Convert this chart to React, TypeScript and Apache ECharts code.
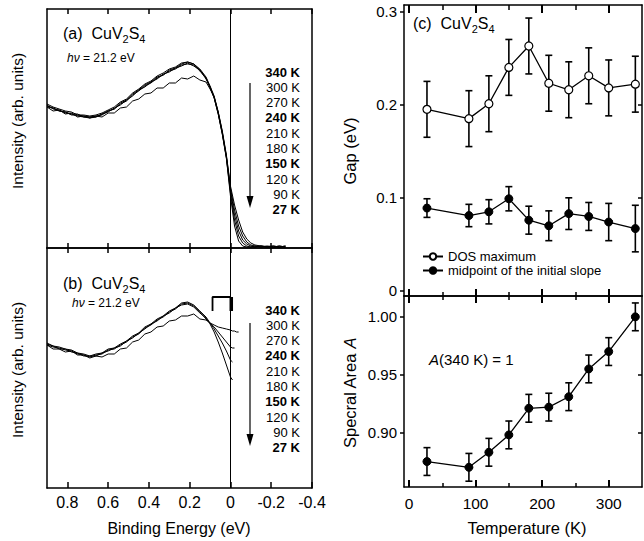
import React, { useEffect, useRef } from "react";
import * as echarts from "echarts";

const FONT = "'Liberation Sans', Arimo, Arial, sans-serif";

// Binding energies (eV)
const E_BULK = [0.9, 0.87, 0.84, 0.81, 0.78, 0.75, 0.72, 0.69, 0.66, 0.63, 0.6, 0.57, 0.54, 0.51, 0.48, 0.45, 0.42, 0.39, 0.36, 0.33, 0.3, 0.27, 0.24, 0.21, 0.18, 0.15, 0.12];
const E_TAIL_A = [0.1, 0.08, 0.06, 0.04, 0.02, 0.0, -0.02, -0.04, -0.06, -0.08, -0.1, -0.12, -0.15, -0.18, -0.21, -0.24, -0.27];
const E_TAIL_B = [0.1, 0.08, 0.06, 0.04, 0.02, 0.0, -0.01, -0.02, -0.03, -0.04];

// Panel (a) spectra, intensity (arb. units)
const SPEC_A_340K = [141, 137, 138, 134, 135, 131, 132, 130, 132, 131, 135, 135, 140, 141, 147, 149, 154, 155, 160, 160, 165, 165, 170, 169, 172, 168, 166, 159, 151, 136, 117, 93, 62, 43, 28, 16, 9, 5, 3, 2, 1.5, 2, 1, 2];
const SPEC_A_270K = [144, 141, 139, 137, 136, 133, 133, 132, 133, 135, 138, 141, 146, 149, 155, 159, 164, 167, 172, 175, 179, 181, 185, 186, 184, 179, 171, 162, 152, 136, 116, 92, 60, 38, 22, 12, 6, 3, 2, 1, 2, 1, 2, 1];
const SPEC_A_210K = [142, 140, 137, 136, 134, 132, 131, 131, 132, 133, 137, 139, 144, 147, 153, 157, 162, 165, 170, 173, 177, 179, 183, 184, 183, 177, 170, 161, 151, 135, 115, 91, 58, 33, 17, 8, 4, 2, 1, 2, 1, 1, 2, 1];
const SPEC_A_150K = [143, 139, 138, 135, 134, 134, 131, 130, 131, 134, 136, 140, 143, 148, 152, 158, 161, 166, 169, 174, 176, 180, 182, 185, 182, 178, 169, 161, 150, 134, 114, 90, 55, 28, 12, 5, 2, 1, 2, 1, 1, 2, 1, 1];
const SPEC_A_27K = [141, 140, 137, 136, 133, 133, 132, 131, 131, 134, 137, 139, 145, 148, 154, 158, 163, 166, 171, 173, 178, 180, 184, 186, 184, 178, 170, 160, 150, 134, 114, 90, 52, 22, 7, 2, 1, 1, 1, 2, 1, 1, 1, 2];

// Panel (b) spectra divided by Fermi function
const SPEC_B_340K = [143, 139, 139, 136, 137, 133, 133, 130, 132, 131, 134, 134, 139, 140, 146, 148, 154, 156, 161, 162, 167, 168, 172, 172, 174, 169, 168, 165, 163, 161, 160, 159, 158, 157, 157, 156, 156];
const SPEC_B_240K = [145, 142, 141, 139, 138, 135, 134, 132, 134, 135, 139, 140, 144, 147, 152, 155, 161, 164, 169, 172, 177, 180, 185, 186, 183, 177, 171, 165, 161, 156, 151, 146, 141, 140, 140];
const SPEC_B_150K = [143, 141, 140, 138, 137, 134, 133, 131, 133, 134, 138, 139, 143, 146, 151, 154, 160, 163, 168, 171, 176, 179, 184, 185, 182, 176, 169, 165, 159, 152, 145, 137, 128, 126];
const SPEC_B_27K = [144, 142, 139, 139, 136, 135, 132, 132, 132, 135, 137, 140, 142, 147, 150, 155, 159, 164, 167, 172, 175, 180, 183, 184, 181, 175, 170, 164, 156, 146, 135, 123, 111, 108];

// Gap bracket in panel (b)
const BRACKET_E = [0.088, 0.0];
const BRACKET_I = [177, 191];

const TEMP_LABELS = ["340 K", "300 K", "270 K", "240 K", "210 K", "180 K", "150 K", "120 K", "90 K", "27 K"];
const TEMP_BOLD = [true, false, false, true, false, false, true, false, false, true];

// Panel (c)
const TEMPS = [27, 90, 120, 150, 180, 210, 240, 270, 300, 340];
const GAP_DOS = [0.195, 0.185, 0.201, 0.24, 0.263, 0.223, 0.216, 0.231, 0.218, 0.222];
const GAP_DOS_ERR = [0.03, 0.03, 0.03, 0.03, 0.03, 0.03, 0.03, 0.03, 0.03, 0.03];
const GAP_MID = [0.089, 0.081, 0.085, 0.099, 0.076, 0.07, 0.083, 0.08, 0.074, 0.067];
const GAP_MID_ERR = [0.01, 0.012, 0.013, 0.013, 0.015, 0.016, 0.017, 0.015, 0.02, 0.025];
const AREA = [0.875, 0.87, 0.883, 0.898, 0.921, 0.922, 0.931, 0.955, 0.97, 1.0];
const AREA_ERR = [0.012, 0.012, 0.012, 0.012, 0.012, 0.012, 0.012, 0.012, 0.012, 0.012];

// Tick values
const E_TICKS = [0.8, 0.6, 0.4, 0.2, 0, -0.2, -0.4];
const T_MAJOR = [0, 100, 200, 300];
const T_MINOR = [50, 150, 250];
const GAP_TICKS = [0, 0.1, 0.2, 0.3];
const GAP_RIGHT_TICKS = [0.1, 0.2];
const AREA_TICKS = [0.9, 0.95, 1.0];
const AREA_RIGHT_TICKS = [0.9, 0.95];

const LINE = { color: "#000", width: 1.5 };

function xAx(o: any) {
  return {
    type: "value",
    gridIndex: o.grid,
    position: o.pos,
    min: o.min,
    max: o.max,
    inverse: !!o.inverse,
    splitLine: { show: false },
    axisLine: { show: o.line !== false, onZero: false, lineStyle: LINE },
    axisTick: {
      show: !!o.ticks,
      inside: true,
      length: o.len || 5,
      customValues: o.ticks,
      lineStyle: { color: "#000", width: o.tw || 1.5 },
    },
    axisLabel: o.labels
      ? { show: true, customValues: o.ticks, fontSize: o.fs, margin: o.margin, color: "#000", fontFamily: FONT, formatter: o.fmt }
      : { show: false, customValues: o.ticks },
  };
}

function yAx(o: any) {
  return {
    type: "value",
    gridIndex: o.grid,
    position: o.pos,
    min: o.min,
    max: o.max,
    splitLine: { show: false },
    axisLine: { show: true, onZero: false, lineStyle: LINE },
    axisTick: {
      show: !!o.ticks,
      inside: !!o.inside,
      length: o.len || 4,
      customValues: o.ticks,
      lineStyle: { color: "#000", width: 1.5 },
    },
    axisLabel: o.labels
      ? { show: true, customValues: o.ticks, fontSize: o.fs, margin: o.margin, color: "#000", fontFamily: FONT, formatter: o.fmt }
      : { show: false, customValues: o.ticks },
  };
}

const eFmt = (v: number) => (Math.abs(v) < 1e-9 ? "0" : v.toFixed(1));
const gapFmt = (v: number) => (Math.abs(v) < 1e-9 ? "0" : v.toFixed(1));
const areaFmt = (v: number) => v.toFixed(2);

function pairs(es: number[], vs: number[]) {
  return vs.map((v, i) => [es[i], v]);
}
const E_ALL_A = E_BULK.concat(E_TAIL_A);
const E_ALL_B = E_BULK.concat(E_TAIL_B);

function specSeries(name: string, vals: number[], es: number[], xi: number, yi: number, mark: boolean) {
  const s: any = {
    name,
    type: "line",
    xAxisIndex: xi,
    yAxisIndex: yi,
    data: pairs(es, vals),
    showSymbol: false,
    symbol: "none",
    lineStyle: { color: "#000", width: 1 },
    silent: true,
    z: 3,
  };
  if (mark) {
    s.markLine = {
      silent: true,
      symbol: ["none", "none"],
      label: { show: false },
      lineStyle: { color: "#000", width: 1, type: "solid" },
      data: [{ xAxis: 0 }],
    };
  }
  return s;
}

function errSeries(vals: number[], errs: number[], xi: number, yi: number) {
  return {
    type: "custom",
    xAxisIndex: xi,
    yAxisIndex: yi,
    silent: true,
    z: 2,
    data: TEMPS.map((t, i) => [t, vals[i] - errs[i], vals[i] + errs[i]]),
    encode: { x: 0, y: [1, 2] },
    renderItem: (params: any, api: any) => {
      const x = api.value(0);
      const lo = api.coord([x, api.value(1)]);
      const hi = api.coord([x, api.value(2)]);
      const w = 3.5;
      const st = { stroke: "#000", lineWidth: 1.6 };
      return {
        type: "group",
        children: [
          { type: "line", shape: { x1: lo[0], y1: lo[1], x2: hi[0], y2: hi[1] }, style: st },
          { type: "line", shape: { x1: lo[0] - w, y1: lo[1], x2: lo[0] + w, y2: lo[1] }, style: st },
          { type: "line", shape: { x1: hi[0] - w, y1: hi[1], x2: hi[0] + w, y2: hi[1] }, style: st },
        ],
      };
    },
  };
}

const CU_RICH = {
  a: { fontSize: 16, fontFamily: FONT, lineHeight: 22, fill: "#000" },
  s: { fontSize: 11, fontFamily: FONT, lineHeight: 11, verticalAlign: "bottom", fill: "#000" },
};
const HV_RICH = {
  i: { fontSize: 12, fontStyle: "italic", fontFamily: FONT, fill: "#000" },
  n: { fontSize: 12, fontFamily: FONT, fill: "#000" },
};

function buildGraphic() {
  const g: any[] = [];
  const cu = (x: number, y: number, tag: string) => ({
    type: "text",
    x,
    y,
    style: { text: `{a|(${tag})  CuV}{s|2}{a|S}{s|4}`, rich: CU_RICH, verticalAlign: "middle" },
  });
  const hv = (x: number, y: number) => ({
    type: "text",
    x,
    y,
    style: { text: "{i|hν}{n| = 21.2 eV}", rich: HV_RICH, verticalAlign: "middle" },
  });
  g.push(cu(63, 33, "a"), hv(67, 58), cu(63, 283, "b"), hv(72, 303), cu(413, 23, "c"));

  const listTops = [72, 310];
  listTops.forEach((top) => {
    TEMP_LABELS.forEach((t, i) => {
      g.push({
        type: "text",
        x: 300,
        y: top + i * 15.3,
        style: {
          text: t,
          align: "right",
          verticalAlign: "middle",
          fontSize: 13,
          fontWeight: TEMP_BOLD[i] ? "bold" : "normal",
          fontFamily: FONT,
          fill: "#000",
        },
      });
    });
  });

  const arrows = [
    [83, 208],
    [323, 446],
  ];
  arrows.forEach(([y1, y2]) => {
    g.push({ type: "line", shape: { x1: 250, y1, x2: 250, y2: y2 - 10 }, style: { stroke: "#000", lineWidth: 1.2 } });
    g.push({
      type: "polygon",
      shape: { points: [[246.5, y2 - 12], [253.5, y2 - 12], [250, y2]] },
      style: { fill: "#000" },
    });
  });

  const vname = (x: number, y: number, text: string, rich?: any) => ({
    type: "text",
    x,
    y,
    rotation: Math.PI / 2,
    style: rich
      ? { text, rich, align: "center", verticalAlign: "middle" }
      : { text, align: "center", verticalAlign: "middle", fontSize: 15.5, fontFamily: FONT, fill: "#000" },
  });
  g.push(vname(17, 121, "Intensity (arb. units)"));
  g.push(vname(17, 370, "Intensity (arb. units)"));
  g.push({
    type: "text",
    x: 350,
    y: 151,
    rotation: Math.PI / 2,
    style: { text: "Gap (eV)", align: "center", verticalAlign: "middle", fontSize: 16.5, fontFamily: FONT, fill: "#000" },
  });
  g.push(
    vname(350, 393, "{n|Specral Area }{i|A}", {
      n: { fontSize: 16.5, fontFamily: FONT, fill: "#000" },
      i: { fontSize: 16.5, fontFamily: FONT, fontStyle: "italic", fill: "#000" },
    })
  );
  g.push({
    type: "text",
    x: 179,
    y: 528,
    style: { text: "Binding Energy (eV)", align: "center", verticalAlign: "middle", fontSize: 16, fontFamily: FONT, fill: "#000" },
  });
  g.push({
    type: "text",
    x: 527,
    y: 528,
    style: { text: "Temperature (K)", align: "center", verticalAlign: "middle", fontSize: 16.5, fontFamily: FONT, fill: "#000" },
  });
  g.push({
    type: "text",
    x: 429,
    y: 359,
    style: {
      text: "{i|A}{n|(340 K) = 1}",
      verticalAlign: "middle",
      rich: {
        i: { fontSize: 15, fontFamily: FONT, fontStyle: "italic", fill: "#000" },
        n: { fontSize: 15, fontFamily: FONT, fill: "#000" },
      },
    },
  });
  return g;
}

function buildOption() {
  const T_MIN = -7.5;
  const T_MAX = 350;
  const GAP_MIN = -0.0054;
  const GAP_MAX = 0.307;
  const AREA_MIN = 0.853;
  const AREA_MAX = 1.018;

  const xAxis = [
    // 0-3: left panels
    xAx({ grid: 0, pos: "top", min: -0.4, max: 0.9, inverse: true, ticks: E_TICKS, len: 5 }),
    xAx({ grid: 0, pos: "bottom", min: -0.4, max: 0.9, inverse: true, ticks: E_TICKS, len: 5 }),
    xAx({ grid: 1, pos: "top", min: -0.4, max: 0.9, inverse: true, ticks: E_TICKS, len: 5 }),
    xAx({ grid: 1, pos: "bottom", min: -0.4, max: 0.9, inverse: true, ticks: E_TICKS, len: 6, labels: true, fs: 16, margin: 6, fmt: eFmt }),
    // 4-7: gap panel
    xAx({ grid: 2, pos: "bottom", min: T_MIN, max: T_MAX, ticks: T_MAJOR, len: 7, tw: 2 }),
    xAx({ grid: 2, pos: "bottom", min: T_MIN, max: T_MAX, ticks: T_MINOR, len: 4, line: false }),
    xAx({ grid: 2, pos: "top", min: T_MIN, max: T_MAX, ticks: T_MAJOR, len: 8, tw: 2 }),
    xAx({ grid: 2, pos: "top", min: T_MIN, max: T_MAX, ticks: T_MINOR, len: 5, line: false }),
    // 8-11: area panel
    xAx({ grid: 3, pos: "top", min: T_MIN, max: T_MAX, ticks: T_MAJOR, len: 7, tw: 2 }),
    xAx({ grid: 3, pos: "top", min: T_MIN, max: T_MAX, ticks: T_MINOR, len: 4, line: false }),
    xAx({ grid: 3, pos: "bottom", min: T_MIN, max: T_MAX, ticks: T_MAJOR, len: 7, tw: 2, labels: true, fs: 15.5, margin: 8, fmt: (v: number) => String(Math.round(v)) }),
    xAx({ grid: 3, pos: "bottom", min: T_MIN, max: T_MAX, ticks: T_MINOR, len: 4, line: false }),
  ];

  const yAxis = [
    yAx({ grid: 0, pos: "left", min: 0, max: 239 }),
    yAx({ grid: 0, pos: "right", min: 0, max: 239 }),
    yAx({ grid: 1, pos: "left", min: 0, max: 240 }),
    yAx({ grid: 1, pos: "right", min: 0, max: 240 }),
    yAx({ grid: 2, pos: "left", min: GAP_MIN, max: GAP_MAX, ticks: GAP_TICKS, len: 4, labels: true, fs: 15, margin: 7, fmt: gapFmt }),
    yAx({ grid: 2, pos: "right", min: GAP_MIN, max: GAP_MAX, ticks: GAP_RIGHT_TICKS, inside: true, len: 4 }),
    yAx({ grid: 3, pos: "left", min: AREA_MIN, max: AREA_MAX, ticks: AREA_TICKS, len: 4, labels: true, fs: 15, margin: 7, fmt: areaFmt }),
    yAx({ grid: 3, pos: "right", min: AREA_MIN, max: AREA_MAX, ticks: AREA_RIGHT_TICKS, inside: true, len: 4 }),
  ];

  const bracketData = [
    [BRACKET_E[0], BRACKET_I[0]],
    [BRACKET_E[0], BRACKET_I[1]],
    [BRACKET_E[1], BRACKET_I[1]],
  ];
  const bracketLeg = [
    [BRACKET_E[1] - 0.004, BRACKET_I[1]],
    [BRACKET_E[1] - 0.004, BRACKET_I[0]],
  ];

  const pointSeries = (name: string, vals: number[], open: boolean, xi: number, yi: number) => ({
    name,
    type: "line",
    xAxisIndex: xi,
    yAxisIndex: yi,
    data: TEMPS.map((t, i) => [t, vals[i]]),
    symbol: "circle",
    symbolSize: 8,
    showSymbol: true,
    lineStyle: { color: "#000", width: 1.3 },
    itemStyle: open
      ? { color: "#fff", borderColor: "#000", borderWidth: 1.2 }
      : { color: "#000", borderColor: "#000", borderWidth: 1 },
    z: 5,
    silent: true,
  });

  const series: any[] = [
    specSeries("340 K", SPEC_A_340K, E_ALL_A, 1, 0, true),
    specSeries("270 K", SPEC_A_270K, E_ALL_A, 1, 0, false),
    specSeries("210 K", SPEC_A_210K, E_ALL_A, 1, 0, false),
    specSeries("150 K", SPEC_A_150K, E_ALL_A, 1, 0, false),
    specSeries("27 K", SPEC_A_27K, E_ALL_A, 1, 0, false),
    specSeries("340 K b", SPEC_B_340K, E_ALL_B, 3, 2, true),
    specSeries("240 K b", SPEC_B_240K, E_ALL_B, 3, 2, false),
    specSeries("150 K b", SPEC_B_150K, E_ALL_B, 3, 2, false),
    specSeries("27 K b", SPEC_B_27K, E_ALL_B, 3, 2, false),
    {
      type: "line",
      xAxisIndex: 3,
      yAxisIndex: 2,
      data: bracketData,
      symbol: "none",
      lineStyle: { color: "#000", width: 1.8 },
      silent: true,
      z: 4,
    },
    {
      type: "line",
      xAxisIndex: 3,
      yAxisIndex: 2,
      data: bracketLeg,
      symbol: "none",
      lineStyle: { color: "#000", width: 3.5 },
      silent: true,
      z: 4,
    },
    errSeries(GAP_DOS, GAP_DOS_ERR, 4, 4),
    errSeries(GAP_MID, GAP_MID_ERR, 4, 4),
    pointSeries("DOS maximum", GAP_DOS, true, 4, 4),
    pointSeries("midpoint of the initial slope", GAP_MID, false, 4, 4),
    errSeries(AREA, AREA_ERR, 10, 6),
    pointSeries("Spectral area", AREA, false, 10, 6),
  ];

  return {
    animation: false,
    backgroundColor: "#fff",
    textStyle: { fontFamily: FONT },
    grid: [
      { left: 47, top: 9, width: 265, height: 239 },
      { left: 47, top: 248, width: 265, height: 240 },
      { left: 404, top: 5, width: 238, height: 291 },
      { left: 404, top: 296, width: 238, height: 191 },
    ],
    xAxis,
    yAxis,
    legend: {
      data: ["DOS maximum", "midpoint of the initial slope"],
      orient: "vertical",
      left: 422,
      top: 250,
      padding: 0,
      itemGap: 1,
      itemWidth: 20,
      itemHeight: 8,
      selectedMode: false,
      textStyle: { fontSize: 13, color: "#000", fontFamily: FONT },
    },
    series,
    graphic: buildGraphic(),
  };
}

export default function App() {
  const ref = useRef<HTMLDivElement>(null);
  useEffect(() => {
    if (!ref.current) return;
    const chart = echarts.init(ref.current, undefined, { renderer: "svg" });
    chart.setOption(buildOption() as any);
    return () => chart.dispose();
  }, []);
  return (
    <div
      ref={ref}
      style={{ position: "fixed", left: 0, top: 0, width: 644, height: 541, background: "#fff" }}
    />
  );
}
